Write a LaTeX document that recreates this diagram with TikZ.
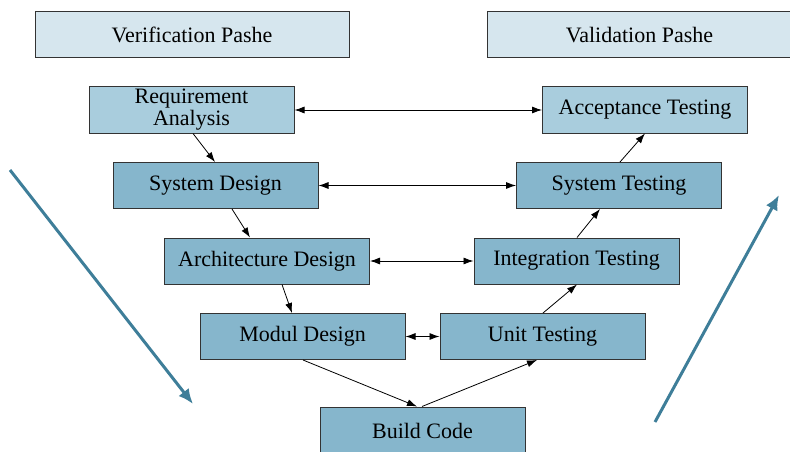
\documentclass[tikz,border=0pt]{standalone}
\usepackage{fontspec}
\setmainfont{Liberation Serif}
\usetikzlibrary{arrows.meta}
\definecolor{phasefill}{HTML}{D6E6EE}
\definecolor{lightfill}{HTML}{A9CDDD}
\definecolor{midfill}{HTML}{86B6CC}
\definecolor{boxline}{HTML}{333333}
\definecolor{teal}{HTML}{3E7E99}
\tikzset{
  basebox/.style={draw=boxline, line width=1pt, inner sep=0pt, minimum width=205pt, minimum height=46pt, align=center, font=\fontsize{22}{22}\selectfont},
  phasebox/.style={basebox, fill=phasefill},
  lightbox/.style={basebox, fill=lightfill},
  midbox/.style={basebox, fill=midfill},
  conn/.style={draw=black, line width=0.8pt, -{Latex[length=10pt,width=7pt]}},
  bconn/.style={draw=black, line width=0.8pt, {Latex[length=10pt,width=7pt]}-{Latex[length=10pt,width=7pt]}},
  bigarrow/.style={draw=teal, line width=3pt, -{Latex[length=15pt,width=13pt]}}
}
\begin{document}
\begin{tikzpicture}[x=1pt,y=-1pt]
\useasboundingbox (0,0) rectangle (790,452);
\node[phasebox, minimum width=314pt] (verif) at (192,35) {Verification Pashe};
\node[phasebox, minimum width=305pt] (valid) at (639.5,35) {Validation Pashe};
\node[lightbox] (req) at (191.5,110) {Requirement\\Analysis};
\node[lightbox] (acc) at (645,110) {Acceptance Testing};
\node[midbox] (sd) at (215.5,185.5) {System Design};
\node[midbox] (st) at (619,185.5) {System Testing};
\node[midbox] (ad) at (267,261) {Architecture Design};
\node[midbox] (it) at (576.5,261) {Integration Testing};
\node[midbox] (md) at (302.5,336.5) {Modul Design};
\node[midbox] (ut) at (542.5,336.5) {Unit Testing};
\node[midbox, minimum height=48pt] (bc) at (422.5,431) {Build Code};
% horizontal links
\draw[bconn] (req.east) -- (acc.west);
\draw[bconn] (sd.east) -- (st.west);
\draw[bconn] (ad.east) -- (it.west);
\draw[bconn] (md.east) -- (ut.west);
% V links
\draw[conn] ([xshift=1.5pt]req.south) -- ([xshift=-0.5pt]sd.north);
\draw[conn] ([xshift=16.5pt]sd.south) -- ([xshift=-17pt]ad.north);
\draw[conn] ([xshift=15pt]ad.south) -- ([xshift=-10.5pt]md.north);
\draw[conn] ([xshift=0.5pt]md.south) -- ([xshift=-5.5pt]bc.north);
\draw[conn] ([xshift=-0.5pt]bc.north) -- ([xshift=-5.5pt]ut.south);
\draw[conn] ([xshift=0.5pt]ut.north) -- ([xshift=0.5pt]it.south);
\draw[conn] ([xshift=0.5pt]it.north) -- ([xshift=-19pt]st.south);
\draw[conn] ([xshift=1pt]st.north) -- (acc.south);
% big arrows
\coordinate (l1) at (10,170);
\coordinate (l2) at (193,404);
\coordinate (r1) at (655,422);
\coordinate (r2) at (779,195);
\draw[bigarrow] (l1) -- (l2);
\draw[bigarrow] (r1) -- (r2);
\end{tikzpicture}
\end{document}
